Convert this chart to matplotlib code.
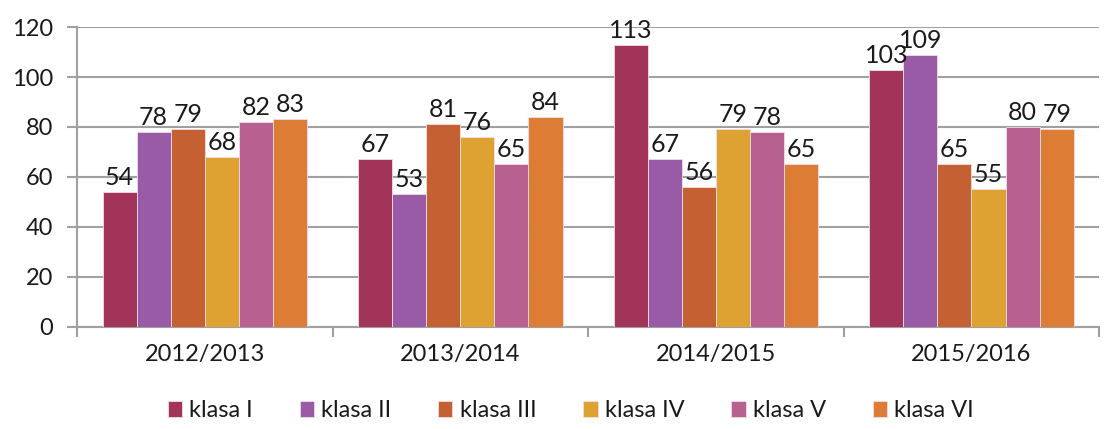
import matplotlib.pyplot as plt
import numpy as np

lata = ['2012/2013', '2013/2014', '2014/2015', '2015/2016']
klasy = ['klasa I', 'klasa II', 'klasa III', 'klasa IV', 'klasa V', 'klasa VI']
klasa1 = [54, 67, 113, 103]
klasa2 = [78, 53, 67, 109]
klasa3 = [79, 81, 56, 65]
klasa4 = [68, 76, 79, 55]
klasa5 = [82, 65, 78, 80]
klasa6 = [83, 84, 65, 79]
kolory = ['#a2345a', '#995ba5', '#c46031', '#dda232', '#b86190', '#dd7c35']

plt.rcParams['font.family'] = ['Lato', 'DejaVu Sans']
plt.rcParams['text.color'] = '#1a1a1a'
fig = plt.figure(figsize=(11.04, 4.29), dpi=100)
ax = fig.add_axes([0.0697, 0.238, 0.926, 0.699])

x = np.arange(len(lata))
w = 0.8 / 6
dane = [klasa1, klasa2, klasa3, klasa4, klasa5, klasa6]
for i, (seria, nazwa, kol) in enumerate(zip(dane, klasy, kolory)):
    pos = x - 0.4 + w * (i + 0.5)
    bars = ax.bar(pos, seria, w, color=kol, edgecolor='#f2dde5', linewidth=0.6, label=nazwa, zorder=3)
    for b, v in zip(bars, seria):
        ax.text(b.get_x() + b.get_width() / 2, v + 1.2, str(v), ha='center', va='bottom',
                fontsize=18, zorder=4)

ax.set_xlim(-0.5, 3.5)
ax.set_ylim(0, 120)
ax.set_yticks(range(0, 121, 20))
ax.yaxis.grid(True, color='#a0a0a0', linewidth=1.5, zorder=0)
ax.set_axisbelow(True)
for s in ['top', 'right']:
    ax.spines[s].set_visible(False)
ax.spines['left'].set_color('#a0a0a0')
ax.spines['left'].set_linewidth(1.5)
ax.spines['bottom'].set_color('#a0a0a0')
ax.spines['bottom'].set_linewidth(1.5)

ax.set_xticks(x)
ax.set_xticklabels(lata, fontsize=17, color='#1a1a1a')
ax.tick_params(axis='x', length=0, pad=12)
ax.set_xticks(np.arange(-0.5, 3.6, 1), minor=True)
ax.tick_params(axis='x', which='minor', length=7, width=1.5, color='#a0a0a0')
ax.tick_params(axis='y', labelsize=17, length=7, width=1.5, color='#a0a0a0', labelcolor='#1a1a1a',
               direction='out', pad=10)

fig.legend(*ax.get_legend_handles_labels(), loc='center', bbox_to_anchor=(0.517, 0.042), ncol=6,
           frameon=False, fontsize=17, handlelength=0.6, handleheight=0.7, handletextpad=0.3,
           columnspacing=2.0, borderpad=0)

fig.savefig('out.png', dpi=100)
